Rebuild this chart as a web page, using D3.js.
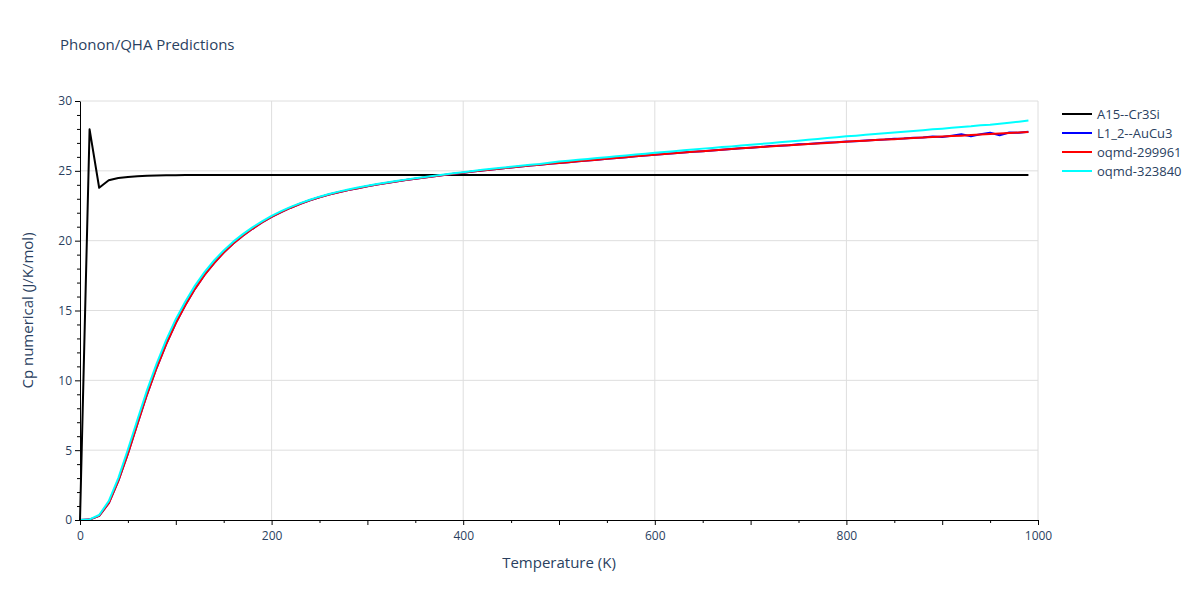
<!DOCTYPE html>
<meta charset="utf-8">
<style>
  body { margin: 0; background: #fff; }
  text { font-family: "Open Sans", verdana, arial, sans-serif; fill: #2a3f5f; }
  .grid line { stroke: #dedede; stroke-width: 1; }
  .axis path, .axis line { stroke: #000; }
</style>
<body>
<div id="chart"></div>
<script src="https://d3js.org/d3.v7.min.js"></script>
<script>

var temps = [0,10,20,30,40,50,60,70,80,90,100,110,120,130,140,150,160,170,180,190,
  200,210,220,230,240,250,260,270,280,290,300,310,320,330,340,350,360,370,380,390,
  400,410,420,430,440,450,460,470,480,490,500,510,520,530,540,550,560,570,580,590,
  600,610,620,630,640,650,660,670,680,690,700,710,720,730,740,750,760,770,780,790,
  800,810,820,830,840,850,860,870,880,890,900,910,920,930,940,950,960,970,980,990];

var cr3si = [0,27.97,23.79,24.33,24.48,24.56,24.62,24.65,24.67,24.68,24.69,24.7,24.7,24.7,24.7,24.7,24.7,24.7,24.7,24.7,
  24.7,24.7,24.7,24.7,24.7,24.7,24.7,24.7,24.7,24.7,24.7,24.7,24.7,24.7,24.7,24.7,24.7,24.7,24.7,24.7,
  24.7,24.7,24.7,24.7,24.7,24.7,24.7,24.7,24.7,24.7,24.7,24.7,24.7,24.7,24.7,24.7,24.7,24.7,24.7,24.7,
  24.7,24.7,24.7,24.7,24.7,24.7,24.7,24.7,24.7,24.7,24.7,24.7,24.7,24.7,24.7,24.7,24.7,24.7,24.7,24.7,
  24.7,24.7,24.7,24.7,24.7,24.7,24.7,24.7,24.7,24.7,24.7,24.7,24.7,24.7,24.7,24.7,24.7,24.7,24.7,24.7];

var aucu3 = [0,0.03,0.3,1.2,2.8,4.75,6.9,9.0,10.9,12.6,14.1,15.4,16.55,17.55,18.4,19.15,19.8,20.35,20.85,21.3,
  21.7,22.05,22.36,22.64,22.89,23.11,23.3,23.47,23.62,23.76,23.9,24.02,24.13,24.24,24.34,24.44,24.53,24.62,24.71,24.79,
  24.87,24.95,25.03,25.1,25.17,25.24,25.31,25.38,25.44,25.5,25.56,25.62,25.68,25.74,25.8,25.86,25.92,25.98,26.04,26.1,
  26.16,26.21,26.26,26.31,26.36,26.41,26.46,26.51,26.56,26.61,26.66,26.7,26.77,26.8,26.83,26.9,26.92,26.97,27.03,27.04,
  27.1,27.12,27.18,27.21,27.24,27.3,27.31,27.37,27.39,27.45,27.43,27.52,27.62,27.48,27.62,27.72,27.55,27.74,27.72,27.8];

var oqmd299961 = [0,0.03,0.3,1.2,2.8,4.75,6.9,9.0,10.9,12.6,14.1,15.4,16.55,17.55,18.4,19.15,19.8,20.35,20.85,21.3,
  21.7,22.05,22.36,22.64,22.89,23.11,23.3,23.47,23.62,23.76,23.9,24.02,24.13,24.24,24.34,24.44,24.53,24.62,24.71,24.79,
  24.87,24.95,25.03,25.1,25.17,25.24,25.31,25.38,25.44,25.5,25.56,25.62,25.68,25.74,25.8,25.86,25.92,25.98,26.04,26.1,
  26.16,26.21,26.26,26.31,26.36,26.41,26.46,26.51,26.56,26.61,26.65,26.7,26.75,26.79,26.83,26.87,26.92,26.96,27.0,27.05,
  27.09,27.13,27.16,27.2,27.24,27.27,27.31,27.35,27.38,27.42,27.45,27.49,27.52,27.56,27.6,27.63,27.67,27.7,27.74,27.78];

var oqmd323840 = [0,0.04,0.36,1.35,3.0,5.05,7.2,9.3,11.2,12.9,14.38,15.65,16.78,17.75,18.58,19.3,19.93,20.47,20.95,21.38,
  21.77,22.11,22.42,22.69,22.93,23.15,23.34,23.51,23.66,23.8,23.93,24.05,24.16,24.27,24.37,24.47,24.56,24.65,24.74,24.82,
  24.9,24.99,25.07,25.15,25.22,25.29,25.36,25.43,25.49,25.58,25.66,25.72,25.79,25.85,25.92,25.98,26.04,26.1,26.17,26.23,
  26.29,26.35,26.41,26.47,26.53,26.59,26.64,26.7,26.75,26.81,26.86,26.92,26.98,27.04,27.1,27.16,27.22,27.28,27.35,27.41,
  27.47,27.52,27.58,27.64,27.69,27.75,27.8,27.86,27.91,27.97,28.02,28.08,28.14,28.19,28.26,28.3,28.37,28.44,28.52,28.6];

var seriesNames = ["A15--Cr3Si", "L1_2--AuCu3", "oqmd-299961", "oqmd-323840"];
var seriesColors = ["#000000", "#0000ff", "#ff0000", "#00ffff"];
var seriesValues = [cr3si, aucu3, oqmd299961, oqmd323840];

var xTicks = [0, 200, 400, 600, 800, 1000];
var yTicks = [0, 5, 10, 15, 20, 25, 30];

var w = 1200, h = 600;
var margin = {top: 101, right: 162, bottom: 80, left: 80};
var iw = w - margin.left - margin.right;
var ih = h - margin.top - margin.bottom;

var svg = d3.select("#chart").append("svg")
  .attr("width", w)
  .attr("height", h);

svg.append("rect").attr("width", w).attr("height", h).attr("fill", "#fff");

var g = svg.append("g")
  .attr("transform", "translate(" + margin.left + "," + margin.top + ")");

var x = d3.scaleLinear().domain([0, 1000]).range([0, iw]);
var y = d3.scaleLinear().domain([0, 30]).range([ih, 0]);

// grid
var grid = g.append("g").attr("class", "grid");
grid.selectAll(".gx").data(xTicks.slice(1)).enter().append("line")
  .attr("x1", function (d) { return x(d); }).attr("x2", function (d) { return x(d); })
  .attr("y1", 0).attr("y2", ih);
grid.selectAll(".gy").data(yTicks.slice(1)).enter().append("line")
  .attr("x1", 0).attr("x2", iw)
  .attr("y1", function (d) { return y(d); }).attr("y2", function (d) { return y(d); });

// minor ticks
g.append("g").attr("class", "axis")
  .attr("transform", "translate(0," + ih + ")")
  .call(d3.axisBottom(x).tickValues(d3.range(50, 1000, 100)).tickSize(3).tickFormat(""))
  .select(".domain").remove();
g.append("g").attr("class", "axis")
  .call(d3.axisLeft(y).tickValues(d3.range(0, 30, 1).filter(function (d) { return d % 5; })).tickSize(3).tickFormat(""))
  .select(".domain").remove();
g.append("g").attr("class", "axis")
  .attr("transform", "translate(0," + ih + ")")
  .call(d3.axisBottom(x).tickValues(d3.range(100, 1000, 200)).tickSize(5).tickFormat(""))
  .select(".domain").remove();

// lines
var line = d3.line()
  .x(function (d, i) { return x(temps[i]); })
  .y(function (d) { return y(d); });

g.selectAll(".series").data(seriesValues).enter().append("path")
  .attr("class", "series")
  .attr("fill", "none")
  .attr("stroke", function (d, i) { return seriesColors[i]; })
  .attr("stroke-width", 2)
  .attr("stroke-linejoin", "round")
  .attr("d", line);

// axes
var xAxis = g.append("g").attr("class", "axis")
  .attr("transform", "translate(0," + ih + ")")
  .call(d3.axisBottom(x).tickValues(xTicks).tickSize(5).tickPadding(6).tickSizeOuter(0).tickFormat(d3.format("d")));
xAxis.selectAll("text").attr("font-size", 12).style("fill", "#2a3f5f");

var yAxis = g.append("g").attr("class", "axis")
  .call(d3.axisLeft(y).tickValues(yTicks).tickSize(5).tickPadding(3).tickSizeOuter(0));
yAxis.selectAll("text").attr("font-size", 12).style("fill", "#2a3f5f");

svg.selectAll(".axis text").attr("font-family", "\"Open Sans\", verdana, arial, sans-serif");

// titles
svg.append("text")
  .attr("x", 60).attr("y", 50)
  .attr("font-size", 15)
  .text("Phonon/QHA Predictions");

svg.append("text")
  .attr("x", margin.left + iw / 2).attr("y", 568)
  .attr("text-anchor", "middle")
  .attr("font-size", 15)
  .text("Temperature (K)");

svg.append("text")
  .attr("transform", "translate(33," + (margin.top + ih / 2) + ") rotate(-90)")
  .attr("text-anchor", "middle")
  .attr("font-size", 15)
  .text("Cp numerical (J/K/mol)");

// legend
var legend = svg.append("g").attr("transform", "translate(1062,114)");
var items = legend.selectAll("g").data(seriesNames).enter().append("g")
  .attr("transform", function (d, i) { return "translate(0," + (i * 19) + ")"; });
items.append("line")
  .attr("x1", 0).attr("x2", 30)
  .attr("stroke", function (d, i) { return seriesColors[i]; })
  .attr("stroke-width", 2);
items.append("text")
  .attr("x", 35).attr("dy", "0.35em")
  .attr("font-size", 13)
  .text(function (d) { return d; });

</script>
</body>
